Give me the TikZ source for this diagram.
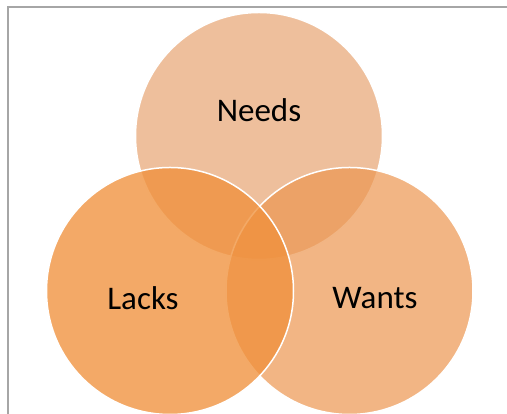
\documentclass[tikz,border=0pt]{standalone}
\usepackage{fontspec}
\setmainfont{Carlito}
\usetikzlibrary{positioning}
\tikzset{
	x=1pt,
	y=1pt,
	venn/.style={circle, draw=white, line width=1.5pt, minimum size=247pt, inner sep=0pt},
	word/.style={font=\fontsize{33}{40}\selectfont, text=black},
	frame/.style={draw=gray!70, line width=1.2pt},
}
\definecolor{needscol}{RGB}{222,128,58}
\definecolor{wantscol}{RGB}{236,150,80}
\definecolor{lackscol}{RGB}{240,145,60}

\begin{document}
\begin{tikzpicture}
		\useasboundingbox (0,0) rectangle (507,414);
		\coordinate (fb) at (8,0);
		\coordinate (fc) at (8,407);
		\coordinate (fr) at (507,407);
		\draw[frame] (fb) -- (fc) -- (fr);

		% circles, back to front
		\node[venn, fill=needscol, fill opacity=.5] (needs) at (259,278) {};
		\node[venn, fill=wantscol, fill opacity=.7] (wants) at (349.5,123) {};
		\node[venn, fill=lackscol, fill opacity=.78] (lacks) at (170,123) {};

		\node[word] (needst) at (259,304) {Needs};
		\node[word] (lackst) at (143,116) {Lacks};
		\node[word] (wantst) at (375,116) {Wants};
	\end{tikzpicture}
\end{document}
